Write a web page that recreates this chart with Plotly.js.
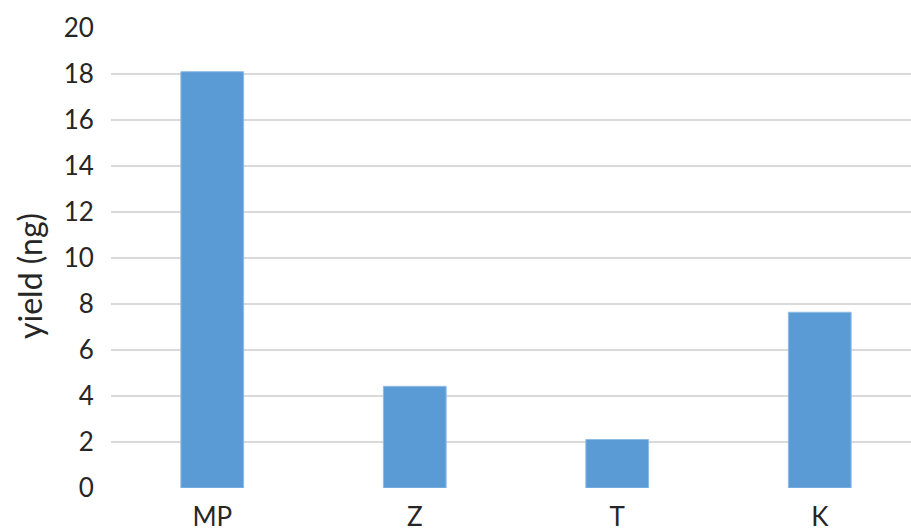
<!DOCTYPE html>
<html>
<head>
<meta charset="utf-8">
<script src="https://cdn.plot.ly/plotly-3.0.1.min.js"></script>
<style>
html,body{margin:0;padding:0;overflow:hidden;background:#fff;}
#chart{width:921px;height:529px;}
</style>
</head>
<body>
<div id="chart"></div>
<script>
const categories = ["MP", "Z", "T", "K"];
const yieldValues = [18.1, 4.42, 2.11, 7.64];
const yTickValues = [0, 2, 4, 6, 8, 10, 12, 14, 16, 18, 20];

const trace = {
  type: "bar",
  x: categories,
  y: yieldValues,
  marker: {color: "#5b9bd5", line: {color: "#8fbbe6", width: 1}},
  hoverinfo: "none"
};

const layout = {
  width: 921,
  height: 529,
  margin: {l: 111, r: 0, t: 27.5, b: 40.5},
  paper_bgcolor: "#ffffff",
  plot_bgcolor: "#ffffff",
  font: {family: "Lato, 'Open Sans', sans-serif", color: "#262626", size: 26},
  showlegend: false,
  bargap: 0.69,
  xaxis: {
    type: "category",
    range: [-0.5, 3.5],
    showgrid: false,
    zeroline: false,
    showline: false,
    ticks: "outside",
    ticklen: 6,
    tickcolor: "rgba(0,0,0,0)",
    tickfont: {size: 26, color: "#262626"},
    fixedrange: true
  },
  yaxis: {
    range: [0, 20],
    tickvals: yTickValues,
    ticktext: yTickValues.map(String),
    showgrid: true,
    gridcolor: "#d9d9d9",
    gridwidth: 1.5,
    zeroline: false,
    showline: false,
    ticks: "outside",
    ticklen: 11,
    tickcolor: "rgba(0,0,0,0)",
    tickfont: {size: 26, color: "#262626"},
    fixedrange: true
  },
  annotations: [{
    text: "yield (ng)",
    textangle: -90,
    xref: "paper",
    yref: "paper",
    x: (30 - 111) / 810,
    y: (488.5 - 276) / 461,
    xanchor: "center",
    yanchor: "middle",
    showarrow: false,
    font: {size: 32, color: "#262626", family: "Lato, 'Open Sans', sans-serif"}
  }]
};

Plotly.newPlot("chart", [trace], layout, {displayModeBar: false, staticPlot: true});
</script>
</body>
</html>
